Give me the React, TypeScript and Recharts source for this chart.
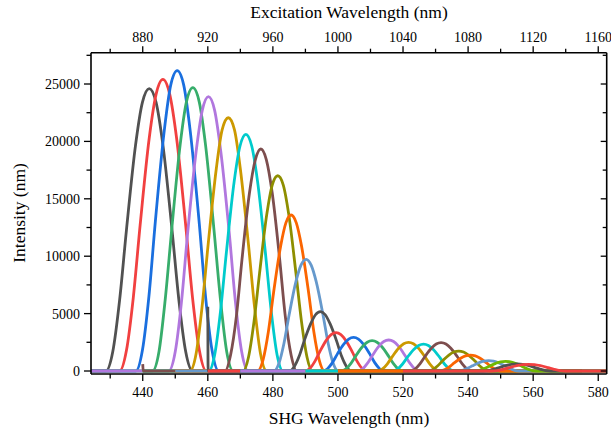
import React from 'react';
import { LineChart, Line, XAxis, YAxis, Label } from 'recharts';

// Origin "Bright" palette as seen in the figure
const GRAY = '#515151';
const RED = '#F14040';
const BLUE = '#1A6FDF';
const GREEN = '#37AD6B';
const PURPLE = '#B177DE';
const GOLD = '#CC9900';
const CYAN = '#00CBCC';
const BROWN = '#7D4E4E';
const OLIVE = '#8E8E00';
const ORANGE = '#FB6501';
const LTBLUE = '#6699CC';
const LIME = '#6FB802';

// SHG spectra: [wavelength nm, intensity]
const c01 = [[424.2,0],[428.7,0],[430.8,1700],[432.9,6200],[435,12300],[437.8,19700],[439.9,23400],[442,24600],[444.1,23400],[446.2,19700],[449,12300],[451.1,6200],[453.2,1700],[455.3,0],[480,0]];
const c02 = [[424.2,0],[432.9,0],[435,1800],[437.1,6400],[439.2,12700],[442,20300],[444.1,24100],[446.2,25400],[448.3,24100],[450.4,20300],[453.2,12700],[455.3,6400],[457.4,1800],[459.5,0],[480,0]];
const c03 = [[424.2,0],[437.9,0],[439.9,1800],[441.9,6500],[443.9,13100],[446.6,20900],[448.6,24900],[450.6,26160],[452.6,24900],[454.6,20900],[457.3,13100],[459.3,6500],[461.3,1800],[463.3,0],[480,0]];
const c04 = [[424.2,0],[443,0],[445,1700],[446.9,6200],[448.9,12300],[451.5,19700],[453.4,23400],[455.4,24680],[457.4,23400],[459.3,19700],[461.9,12300],[463.9,6200],[465.8,1700],[467.8,0],[480,0]];
const c05 = [[424.2,0],[448,0],[450,1700],[451.9,6000],[453.8,12000],[456.4,19100],[458.3,22700],[460.2,23900],[462.1,22700],[464,19100],[466.6,12000],[468.5,6000],[470.4,1700],[472.4,0],[482,0]];
const c06 = [[440,0],[454.5,0],[456.4,1500],[458.2,5500],[460.1,11000],[462.6,17600],[464.4,21000],[466.3,22060],[468.2,21000],[470,17600],[472.5,11000],[474.4,5500],[476.2,1500],[478.1,0],[495,0]];
const c07 = [[440,0],[460.3,0],[462.1,1400],[463.9,5200],[465.7,10300],[468.1,16500],[469.9,19600],[471.7,20620],[473.5,19600],[475.3,16500],[477.7,10300],[479.5,5200],[481.3,1400],[483.1,0],[495,0]];
const c08 = [[440,600],[440.15,0],[465.3,0],[467,1400],[468.8,4800],[470.5,9700],[472.8,15500],[474.6,18400],[476.3,19340],[478,18400],[479.8,15500],[482.1,9700],[483.8,4800],[485.6,1400],[487.3,0],[495,0]];
const c09 = [[450,0],[470.9,0],[472.5,1200],[474.2,4300],[475.9,8500],[478.1,13600],[479.8,16200],[481.5,17010],[483.2,16200],[484.9,13600],[487.1,8500],[488.8,4300],[490.5,1200],[492.1,0],[510,0]];
const c10 = [[450,0],[475.3,0],[477,1000],[478.6,3400],[480.2,6800],[482.4,10900],[484,12900],[485.6,13590],[487.2,12900],[488.8,10900],[491,6800],[492.6,3400],[494.2,1000],[495.9,0],[510,0]];
const c11 = [[450,0],[480.3,0],[481.9,700],[483.4,2400],[485,4900],[487.1,7800],[488.6,9200],[490.2,9730],[491.8,9200],[493.3,7800],[495.4,4900],[497,2400],[498.5,700],[500.1,0],[510,0]];
const c12 = [[460,5600],[460.1,0],[485.1,0],[486.6,400],[488.1,1300],[489.6,2600],[491.6,4100],[493.1,4900],[494.6,5170],[496.1,4900],[497.6,4100],[499.6,2600],[501.1,1300],[502.6,400],[504.1,0],[520,0]];
const c13 = [[460,0],[489.9,0],[491.4,230],[492.9,840],[494.4,1670],[496.4,2670],[497.9,3170],[499.4,3340],[500.9,3170],[502.4,2670],[504.4,1670],[505.9,840],[507.4,230],[508.9,0],[520,0]];
const c14 = [[470,0],[495.3,0],[496.8,200],[498.3,730],[499.8,1470],[501.8,2340],[503.3,2780],[504.8,2930],[506.3,2780],[507.8,2340],[509.8,1470],[511.3,730],[512.8,200],[514.3,0],[540,0]];
const c15 = [[470,0],[501,0],[502.5,180],[504,660],[505.5,1320],[507.5,2110],[509,2510],[510.5,2640],[512,2510],[513.5,2110],[515.5,1320],[517,660],[518.5,180],[520,0],[540,0]];
const c16 = [[470,0],[506.1,0],[507.6,190],[509.1,680],[510.6,1350],[512.6,2160],[514.1,2570],[515.6,2700],[517.1,2570],[518.6,2160],[520.6,1350],[522.1,680],[523.6,190],[525.1,0],[540,0]];
const c17 = [[490,0],[512.2,0],[513.7,180],[515.2,630],[516.7,1250],[518.7,2000],[520.2,2380],[521.7,2500],[523.2,2380],[524.7,2000],[526.7,1250],[528.2,630],[529.7,180],[531.2,0],[560,0]];
const c18 = [[490,0],[516.8,0],[518.3,160],[519.8,590],[521.3,1180],[523.3,1880],[524.8,2230],[526.3,2350],[527.8,2230],[529.3,1880],[531.3,1180],[532.8,590],[534.3,160],[535.8,0],[560,0]];
const c19 = [[500,0],[522.2,0],[523.7,170],[525.2,620],[526.7,1240],[528.7,1980],[530.2,2350],[531.7,2470],[533.2,2350],[534.7,1980],[536.7,1240],[538.2,620],[539.7,170],[541.2,0],[575,0]];
const c20 = [[500,0],[527.6,0],[529.1,120],[530.6,440],[532.1,870],[534.1,1390],[535.6,1650],[537.1,1740],[538.6,1650],[540.1,1390],[542.1,870],[543.6,440],[545.1,120],[546.6,0],[575,0]];
const c21 = [[500,0],[531.2,0],[532.7,100],[534.2,350],[535.7,700],[537.7,1110],[539.2,1320],[540.7,1390],[542.2,1320],[543.7,1110],[545.7,700],[547.2,350],[548.7,100],[550.2,0],[575,0]];
const c22 = [[520,0],[536.8,0],[538.3,60],[539.8,230],[541.3,450],[543.3,720],[544.8,860],[546.3,900],[547.8,860],[549.3,720],[551.3,450],[552.8,230],[554.3,60],[555.8,0],[582.5,0]];
const c23 = [[520,0],[542,0],[543.5,60],[545,210],[546.5,420],[548.5,670],[550,800],[551.5,840],[553,800],[554.5,670],[556.5,420],[558,210],[559.5,60],[561,0],[582.5,0]];
const c24 = [[520,0],[544.6,0],[546.3,40],[547.9,150],[549.6,300],[551.8,490],[553.4,580],[555.1,610],[556.8,580],[558.4,490],[560.6,300],[562.3,150],[563.9,40],[565.6,0],[582.5,0]];
const c25 = [[520,0],[547.2,0],[549,40],[550.8,150],[552.6,290],[555,460],[556.8,550],[558.6,580],[560.4,550],[562.2,460],[564.6,290],[566.4,150],[568.2,40],[570,0],[582.5,0]];

const curves = [c01,c02,c03,c04,c05,c06,c07,c08,c09,c10,c11,c12,c13,c14,c15,c16,c17,c18,c19,c20,c21,c22,c23,c24,c25];
const curveColors = [GRAY,RED,BLUE,GREEN,PURPLE,GOLD,CYAN,BROWN,OLIVE,ORANGE,LTBLUE,GRAY,RED,BLUE,GREEN,PURPLE,GOLD,CYAN,BROWN,OLIVE,ORANGE,LTBLUE,LIME,GRAY,RED];

// Excitation-axis extent (twice the SHG axis extent)
const excitationRange = [[848.2, 0], [1165.2, 0]];

const bottomTicks = [430,440,450,460,470,480,490,500,510,520,530,540,550,560,570,580];
const topTicks = [860,880,900,920,940,960,980,1000,1020,1040,1060,1080,1100,1120,1140,1160];
const yTicks = [0,2500,5000,7500,10000,12500,15000,17500,20000,22500,25000,27500];

const FONT = '"Liberation Serif", "Times New Roman", serif';

function BottomTick(props: any) {
  const { x, y, payload } = props;
  const v = payload.value;
  const major = v % 20 === 0;
  return (
    <g>
      <line x1={x} x2={x} y1={y} y2={y + (major ? 7 : 4.5)} stroke="#000" strokeWidth={1.3} />
      {major && (
        <text x={x} y={y + 22.7} textAnchor="middle" fontSize={14} fontFamily={FONT} fill="#000">{v}</text>
      )}
    </g>
  );
}

function TopTick(props: any) {
  const { x, y, payload } = props;
  const v = payload.value;
  const major = v % 40 === 0;
  return (
    <g>
      <line x1={x} x2={x} y1={y} y2={y - (major ? 6.5 : 4)} stroke="#000" strokeWidth={1.3} />
      {major && (
        <text x={x} y={y - 11} textAnchor="middle" fontSize={14} fontFamily={FONT} fill="#000">{v}</text>
      )}
    </g>
  );
}

function LeftTick(props: any) {
  const { x, y, payload } = props;
  const v = payload.value;
  const major = v % 5000 === 0;
  return (
    <g>
      <line x1={x} x2={x - (major ? 7 : 4.5)} y1={y} y2={y} stroke="#000" strokeWidth={1.3} />
      {major && (
        <text x={x - 11} y={y + 5} textAnchor="end" fontSize={14} fontFamily={FONT} fill="#000">{v}</text>
      )}
    </g>
  );
}

function RightTick(props: any) {
  const { x, y, payload } = props;
  const v = payload.value;
  const major = v % 5000 === 0;
  return (
    <g>
      <line x1={x} x2={x - (major ? 6 : 4)} y1={y} y2={y} stroke="#000" strokeWidth={1.3} />
    </g>
  );
}

const axisLine = { stroke: '#000', strokeWidth: 1.6 };

export default function App() {
  return (
    <div style={{ position: 'absolute', left: 0, top: 0, background: '#fff' }}>
      <LineChart width={611} height={428} margin={{ top: 0, right: 4.3, bottom: 0, left: 0 }}>
        <XAxis
          xAxisId="bottom"
          type="number"
          dataKey="x"
          domain={[424.1, 582.6]}
          ticks={bottomTicks}
          interval={0}
          tickSize={0}
          tickMargin={0}
          tickLine={false}
          tick={BottomTick}
          axisLine={axisLine}
          height={54}
          allowDataOverflow
        >
          <Label
            content={() => (
              <text x={349} y={424} textAnchor="middle" fontSize={17.5} fontFamily={FONT} fill="#000">
                SHG Wavelength (nm)
              </text>
            )}
          />
        </XAxis>
        <XAxis
          xAxisId="top"
          orientation="top"
          type="number"
          dataKey="x"
          domain={[848.2, 1165.2]}
          ticks={topTicks}
          interval={0}
          tickSize={0}
          tickMargin={0}
          tickLine={false}
          tick={TopTick}
          axisLine={axisLine}
          height={52.7}
          allowDataOverflow
        >
          <Label
            content={() => (
              <text x={349} y={18} textAnchor="middle" fontSize={17.5} fontFamily={FONT} fill="#000">
                Excitation Wavelength (nm)
              </text>
            )}
          />
        </XAxis>
        <YAxis
          yAxisId="left"
          type="number"
          domain={[-261, 27727]}
          ticks={yTicks}
          interval={0}
          tickSize={0}
          tickMargin={0}
          tickLine={false}
          tick={LeftTick}
          axisLine={axisLine}
          width={91}
          allowDataOverflow
        >
          <Label
            content={() => (
              <text
                x={25}
                y={213}
                textAnchor="middle"
                fontSize={17.5}
                fontFamily={FONT}
                fill="#000"
                transform="rotate(-90, 25, 213)"
              >
                Intensity (nm)
              </text>
            )}
          />
        </YAxis>
        <YAxis
          yAxisId="right"
          orientation="right"
          mirror
          type="number"
          domain={[-261, 27727]}
          ticks={yTicks}
          interval={0}
          tickSize={0}
          tickMargin={0}
          tickLine={false}
          tick={RightTick}
          axisLine={axisLine}
          width={10}
          allowDataOverflow
        />
        <Line
          xAxisId="top"
          yAxisId="right"
          data={excitationRange.map(([x, y]) => ({ x, y }))}
          dataKey="y"
          stroke="none"
          strokeWidth={0}
          dot={false}
          activeDot={false}
          isAnimationActive={false}
        />
        {curves.map((c, i) => (
          <Line
            key={i}
            xAxisId="bottom"
            yAxisId="left"
            data={c.map(([x, y]) => ({ x, y }))}
            dataKey="y"
            type="monotone"
            stroke={curveColors[i]}
            strokeWidth={2.8}
            dot={false}
            activeDot={false}
            isAnimationActive={false}
          />
        ))}
      </LineChart>
    </div>
  );
}
